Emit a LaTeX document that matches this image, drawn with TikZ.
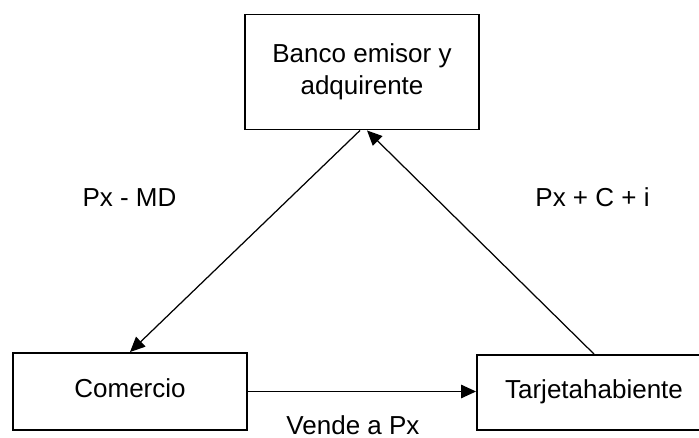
\documentclass[tikz,border=0pt]{standalone}
\usepackage{fontspec}
\setmainfont{Liberation Sans}
\usetikzlibrary{arrows.meta}

\tikzset{
    caja/.style={draw, line width=1.1pt, minimum width=4.68cm, inner sep=0pt,
        font=\fontsize{14.8}{18.2}\selectfont},
    linea/.style={text height=0.93em, text depth=0.21em},
    flecha/.style={line width=0.7pt, -{Triangle[length=0.3cm, width=0.27cm]}},
    etiqueta/.style={anchor=base, inner sep=0pt, font=\fontsize{14.8}{18.2}\selectfont}
}

\begin{document}
\begin{tikzpicture}[x=0.02cm, y=-0.02cm]
    % size of the picture
    \useasboundingbox (0,0) rectangle (699,438);

    % the three boxes
    \node[caja, minimum height=2.3cm, align=center] (banco) at (362,72) {Banco emisor y\\adquirente};
    \node[caja, minimum height=1.54cm, linea] (comercio) at (130,391.5) {Comercio};
    \node[caja, minimum height=1.5cm, linea] (tarjeta) at (594,392.5) {Tarjetahabiente};

    % flows between them
    \draw[flecha] ([shift={(-2,0)}]banco.south) -- (comercio.north);
    \draw[flecha] (tarjeta.north) -- ([shift={(5,0)}]banco.south);
    \draw[flecha] (comercio.east) -- (comercio.east -| tarjeta.west);

    % labels
    \node[etiqueta] (pxmd) at (129.5,207) {Px - MD};
    \node[etiqueta] (pxci) at (592.5,207) {Px + C + i};
    \node[etiqueta] (vende) at (353,434) {Vende a Px};
\end{tikzpicture}
\end{document}
